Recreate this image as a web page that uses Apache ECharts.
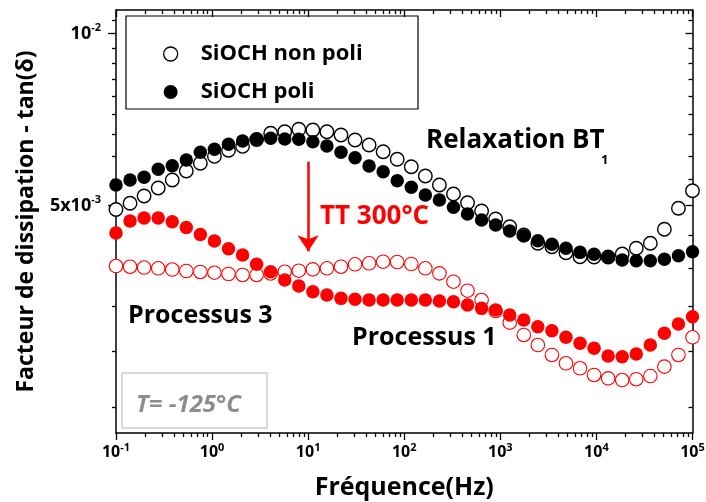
<!DOCTYPE html>
<html>
<head>
<meta charset="utf-8">
<script src="https://cdn.jsdelivr.net/npm/echarts@6/dist/echarts.min.js"></script>
<style>html,body{margin:0;padding:0;background:#fff}#c{width:706px;height:502px}</style>
</head>
<body>
<div id="c"></div>
<script>
// Frequencies (Hz)
const freq = [0.1, 0.14, 0.196, 0.275, 0.385, 0.539, 0.755, 1.058, 1.482, 2.076, 2.907, 4.072, 5.704, 7.989,
  11.19, 15.67, 21.95, 30.75, 43.07, 60.33, 84.5, 118.4, 165.8, 232.2, 325.3, 455.6, 638.2, 893.9,
  1252, 1754, 2456, 3441, 4819, 6750, 9454, 13243, 18549, 25980, 36390, 50970, 71390, 100000];

// SiOCH non poli (open black)
const nonPoli = [0.004923, 0.005048, 0.005198, 0.005368, 0.005544, 0.005749, 0.005930, 0.006099, 0.006249, 0.006350,
  0.006528, 0.006693, 0.006736, 0.006801, 0.006782, 0.006736, 0.006646, 0.006514, 0.006384, 0.006214,
  0.006027, 0.005850, 0.005634, 0.005434, 0.005240, 0.005060, 0.004893, 0.004738, 0.004593, 0.004442,
  0.004296, 0.004237, 0.004136, 0.004070, 0.004065, 0.004065, 0.004114, 0.004210, 0.004296, 0.004545,
  0.004947, 0.005310];
// SiOCH poli (filled black)
const poli = [0.005434, 0.005544, 0.005605, 0.005788, 0.005873, 0.006009, 0.006199, 0.006274, 0.006402, 0.006488,
  0.006533, 0.006559, 0.006541, 0.006533, 0.006469, 0.006358, 0.006199, 0.006065, 0.005866, 0.005732,
  0.005529, 0.005384, 0.005219, 0.005115, 0.004967, 0.004835, 0.004719, 0.004625, 0.004514, 0.004430,
  0.004341, 0.004278, 0.004210, 0.004142, 0.004109, 0.004060, 0.004016, 0.004005, 0.004005, 0.004027,
  0.004086, 0.004153];
// SiOCH non poli after TT 300°C (open red)
const nonPoliTT = [0.003920, 0.003909, 0.003896, 0.003884, 0.003865, 0.003842, 0.003827, 0.003816, 0.003796, 0.003781,
  0.003781, 0.003804, 0.003831, 0.003847, 0.003868, 0.003884, 0.003909, 0.003947, 0.003963, 0.003989,
  0.003984, 0.003952, 0.003884, 0.003806, 0.003680, 0.003549, 0.003418, 0.003270, 0.003120, 0.002969,
  0.002851, 0.002739, 0.002649, 0.002596, 0.002527, 0.002493, 0.002476, 0.002484, 0.002516, 0.002613,
  0.002739, 0.002941];
// SiOCH poli after TT 300°C (filled red)
const poliTT = [0.004478, 0.004699, 0.004756, 0.004756, 0.004686, 0.004578, 0.004451, 0.004336, 0.004203, 0.004098,
  0.003947, 0.003831, 0.003705, 0.003617, 0.003534, 0.003487, 0.003441, 0.003428, 0.003418, 0.003418,
  0.003418, 0.003418, 0.003418, 0.003404, 0.003395, 0.003350, 0.003305, 0.003283, 0.003218, 0.003154,
  0.003069, 0.003020, 0.002941, 0.002871, 0.002814, 0.002728, 0.002720, 0.002750, 0.002851, 0.002989,
  0.003103, 0.003196];

// Tick values / labels
const xMajor = [0.1, 1, 10, 100, 1000, 10000, 100000];
const xMajorLabels = ['-1', '0', '1', '2', '3', '4', '5'];
const xMinor = [];
for (let e = -1; e < 5; e++) for (let m = 2; m <= 9; m++) xMinor.push(m * Math.pow(10, e));
const yMajor = [0.01, 0.005];
const yMajorLabels = [['10', '-2'], ['5x10', '-3']];
const yMinor = [0.010556, 0.009444, 0.008889, 0.008333, 0.007778, 0.007222, 0.006667, 0.006111, 0.005556,
  0.004444, 0.003889, 0.003333, 0.002778, 0.002222];
// Arrow (TT 300°C)
const arrowX = 10, arrowFrom = 0.00597, arrowTo = 0.00416;

const FONT = 'Open Sans';
const chart = echarts.init(document.getElementById('c'), null, {renderer: 'canvas'});

function nearestIdx(arr, v) {
  let b = 0, bd = Infinity;
  arr.forEach((a, i) => { const d = Math.abs(Math.log10(a) - Math.log10(v)); if (d < bd) { bd = d; b = i; } });
  return b;
}
function rich(sz, ssz, raise) {
  return {
    b: {fontFamily: FONT, fontWeight: 'bold', fontSize: sz, color: '#000'},
    s: {fontFamily: FONT, fontWeight: 'bold', fontSize: ssz, color: '#000', padding: [0, 0, raise, 0]}
  };
}
const lineSt = {color: '#000', width: 1.5};
function xAx(pos, ticks, len, inside, showLine, labels) {
  return {
    type: 'log', logBase: 10, min: 0.1, max: 100000, position: pos,
    splitLine: {show: false},
    axisLine: {show: showLine, onZero: false, lineStyle: lineSt},
    axisTick: {show: true, customValues: ticks, length: len, inside: inside, lineStyle: {color: '#000', width: 1.3}},
    axisLabel: labels ? {
      show: true, customValues: xMajor, margin: 9,
      fontFamily: FONT, fontWeight: 'bold', fontSize: 16, color: '#000',
      formatter: v => '{b|10}{s|' + xMajorLabels[nearestIdx(xMajor, v)] + '}', rich: rich(16, 11, 9)
    } : {show: false},
    name: labels ? 'Fréquence(Hz)' : '', nameLocation: 'middle', nameGap: 42,
    nameTextStyle: {fontFamily: FONT, fontWeight: 'bold', fontSize: 25, color: '#000'}
  };
}
function yAx(pos, ticks, len, inside, showLine, labels) {
  return {
    type: 'log', logBase: 10, min: 0.002, max: 0.011, position: pos,
    splitLine: {show: false},
    axisLine: {show: showLine, onZero: false, lineStyle: lineSt},
    axisTick: {show: true, customValues: ticks, length: len, inside: inside, lineStyle: {color: '#000', width: 1.3}},
    axisLabel: labels ? {
      show: true, customValues: yMajor, margin: 15,
      fontFamily: FONT, fontWeight: 'bold', fontSize: 18, color: '#000',
      formatter: v => { const l = yMajorLabels[nearestIdx(yMajor, v)]; return '{b|' + l[0] + '}{s|' + l[1] + '}'; },
      rich: rich(18, 11, 11)
    } : {show: false},
    name: labels ? 'Facteur de dissipation - tan(δ)' : '', nameLocation: 'middle', nameGap: 78,
    nameTextStyle: {fontFamily: FONT, fontWeight: 'bold', fontSize: 23, color: '#000'}
  };
}
function pts(ys) { return freq.map((f, i) => [f, ys[i]]); }
const SZ = 13.5;

const option = {
  animation: false,
  backgroundColor: '#fff',
  grid: {left: 116, right: 13.5, top: 10, bottom: 69, containLabel: false, outerBoundsMode: 'none'},
  xAxis: [
    xAx('bottom', xMajor, 7, false, true, true),
    xAx('bottom', xMinor, 4, false, false, false),
    xAx('top', xMajor, 7, true, true, false),
    xAx('top', xMinor, 4, true, false, false)
  ],
  yAxis: [
    yAx('left', yMajor, 8, false, true, true),
    yAx('left', yMinor, 4, false, false, false),
    yAx('right', yMajor, 7, true, true, false),
    yAx('right', yMinor, 4, true, false, false)
  ],
  legend: {
    orient: 'vertical', left: 158, top: 38, itemWidth: 14, itemHeight: 14, itemGap: 16,
    selectedMode: false,
    data: [
      {name: 'SiOCH non poli', icon: 'circle', itemStyle: {color: '#fff', borderColor: '#000', borderWidth: 1.3, opacity: 1}},
      {name: 'SiOCH poli', icon: 'circle', itemStyle: {color: '#000', opacity: 1}}
    ],
    textStyle: {fontFamily: FONT, fontWeight: 'bold', fontSize: 22, color: '#000', padding: [0, 0, 0, 18], lineHeight: 22}
  },
  series: [
    {name: 'SiOCH non poli', type: 'scatter', data: pts(nonPoli), symbol: 'circle', symbolSize: SZ,
      itemStyle: {color: '#fff', borderColor: '#000', borderWidth: 1.4, opacity: 1}},
    {name: 'SiOCH non poli TT', type: 'scatter', data: pts(nonPoliTT), symbol: 'circle', symbolSize: SZ,
      itemStyle: {color: '#fff', borderColor: '#ff0000', borderWidth: 1.1, opacity: 1}},
    {name: 'SiOCH poli', type: 'scatter', data: pts(poli), symbol: 'circle', symbolSize: SZ,
      itemStyle: {color: '#000', opacity: 1}},
    {name: 'SiOCH poli TT', type: 'scatter', data: pts(poliTT), symbol: 'circle', symbolSize: SZ,
      itemStyle: {color: '#ff0000', opacity: 1},
      markLine: {
        silent: true, symbol: ['none', 'arrow'], symbolSize: 16,
        label: {show: false},
        lineStyle: {color: '#ff0000', width: 2.5, type: 'solid', opacity: 1},
        data: [[{coord: [arrowX, arrowFrom]}, {coord: [arrowX, arrowTo]}]]
      }}
  ],
  graphic: [
    {type: 'rect', shape: {x: 126, y: 16, width: 292, height: 93}, style: {fill: 'none', stroke: '#000', lineWidth: 1.2}, z: 10},
    {type: 'rect', shape: {x: 122, y: 373, width: 145, height: 55}, style: {fill: 'none', stroke: '#cccccc', lineWidth: 1.5}, z: 10},
    {type: 'text', x: 136, y: 405, z: 10, style: {text: 'T= -125°C', fontFamily: FONT, fontWeight: 'bold', fontStyle: 'italic', fontSize: 24, fill: '#8c8c8c', verticalAlign: 'middle'}},
    {type: 'text', x: 426, y: 141, z: 10, style: {text: 'Relaxation BT', fontFamily: FONT, fontWeight: 'bold', fontSize: 26, fill: '#000', verticalAlign: 'middle'}},
    {type: 'text', x: 601, y: 160, z: 10, style: {text: '1', fontFamily: FONT, fontWeight: 'bold', fontSize: 13, fill: '#000', verticalAlign: 'middle'}},
    {type: 'text', x: 320, y: 217, z: 10, style: {text: 'TT 300°C', fontFamily: FONT, fontWeight: 'bold', fontSize: 26, fill: '#ff0000', verticalAlign: 'middle'}},
    {type: 'text', x: 128, y: 316, z: 10, style: {text: 'Processus 3', fontFamily: FONT, fontWeight: 'bold', fontSize: 25, fill: '#000', verticalAlign: 'middle'}},
    {type: 'text', x: 352, y: 338, z: 10, style: {text: 'Processus 1', fontFamily: FONT, fontWeight: 'bold', fontSize: 25, fill: '#000', verticalAlign: 'middle'}}
  ]
};
chart.setOption(option);
</script>
</body>
</html>
